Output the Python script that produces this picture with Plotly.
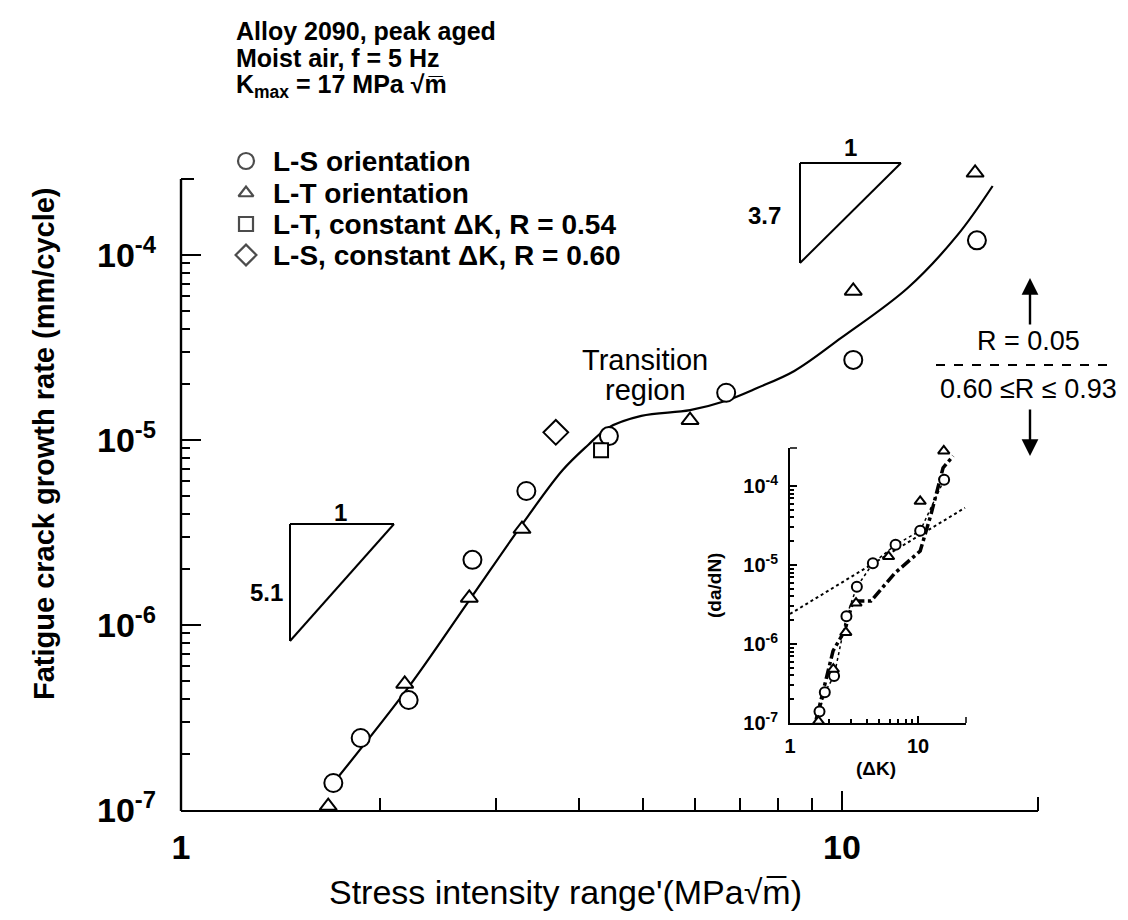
import plotly.graph_objects as go

# ---------------- data ----------------
ls_dk = [1.70, 1.87, 2.21, 2.76, 3.33, 4.44, 6.68, 10.4, 16.0]
ls_rate = [1.40e-7, 2.45e-7, 3.93e-7, 2.25e-6, 5.3e-6, 1.05e-5, 1.8e-5, 2.71e-5, 1.2e-4]

lt_dk = [1.67, 2.18, 2.73, 3.28, 5.89, 10.4, 15.9]
lt_rate = [1.05e-7, 4.8e-7, 1.4e-6, 3.3e-6, 1.28e-5, 6.39e-5, 2.78e-4]

sq_dk = [4.32]
sq_rate = [8.8e-6]

di_dk = [3.69]
di_rate = [1.1e-5]

fit_dk = [1.70, 2.205, 2.718, 3.35, 3.78, 4.13, 4.42, 4.97, 5.89, 6.64, 7.44,
          8.47, 9.97, 12.57, 14.95, 16.9]
fit_rate = [1.40e-7, 4.57e-7, 1.33e-6, 3.88e-6, 6.88e-6, 9.4e-6, 1.16e-5, 1.35e-5,
            1.45e-5, 1.62e-5, 1.91e-5, 2.36e-5, 3.56e-5, 6.63e-5, 1.28e-4, 2.36e-4]

# inset: high-R data (dash-dot) and extrapolated power-law line (dotted)
hiR_dk = [1.6, 2.17, 2.69, 3.1, 4.29, 6.6, 10.4, 12.6, 15.7, 18.8]
hiR_rate = [1.1e-7, 8.2e-7, 1.5e-6, 3.5e-6, 3.5e-6, 7.9e-6, 1.5e-5, 4.3e-5, 1.7e-4, 2.4e-4]
paris_dk = [1.0, 23.3]
paris_rate = [2.4e-6, 5.3e-5]

legend_names = ["L-S orientation", "L-T orientation",
                "L-T, constant ΔK, R = 0.54", "L-S, constant ΔK, R = 0.60"]
legend_symbols = ["circle-open", "triangle-up-open", "square-open", "diamond-open"]

y_tick_vals = [1e-7, 1e-6, 1e-5, 1e-4]
y_tick_text = ["10<sup>-7</sup>", "10<sup>-6</sup>", "10<sup>-5</sup>", "10<sup>-4</sup>"]
x_tick_vals = [1, 10]
x_tick_text = ["1", "10"]

# ---------------- layout geometry (pixels) ----------------
W, H = 1128, 920
L, R, T, B = 173, 1030, 130, 802   # plot area (T above the drawn axis top)
AXIS_TOP = 171
XDEC = 661.0
YDEC = 185.0
x_range = [0, (R - L) / XDEC]
y_range = [-7, -7 + (B - T) / YDEC]

# inset geometry (pixels)
IL, IR, IT, IB = 782, 958, 440, 715
IXDEC, IYDEC = 128.0, 79.0

FONT = "Liberation Sans, Arial, Helvetica, sans-serif"


def P(px, py):
    return (px - L) / (R - L), (B - py) / (B - T)


minor_y = [k * 10.0 ** e for e in (-7, -6, -5) for k in range(2, 10)]
minor_x = [2, 3, 4, 5, 6, 7, 8, 9]

fig = go.Figure()

# main fitted curve
fig.add_trace(go.Scatter(x=fit_dk, y=fit_rate, mode="lines",
                         line=dict(color="black", width=2.2, shape="spline", smoothing=1.0),
                         showlegend=False, hoverinfo="skip"))

mk_line = dict(color="black", width=2)
fig.add_trace(go.Scatter(x=ls_dk, y=ls_rate, mode="markers", name=legend_names[0],
                         marker=dict(symbol="circle", size=18, color="white", line=mk_line),
                         cliponaxis=False, showlegend=False))
fig.add_trace(go.Scatter(x=lt_dk, y=lt_rate, mode="markers", name=legend_names[1],
                         marker=dict(symbol="triangle-up", size=15, color="white", line=mk_line),
                         cliponaxis=False, showlegend=False))
fig.add_trace(go.Scatter(x=sq_dk, y=sq_rate, mode="markers", name=legend_names[2],
                         marker=dict(symbol="square", size=14, color="white", line=mk_line),
                         cliponaxis=False, showlegend=False))
fig.add_trace(go.Scatter(x=di_dk, y=di_rate, mode="markers", name=legend_names[3],
                         marker=dict(symbol="diamond", size=19, color="white", line=mk_line),
                         cliponaxis=False, showlegend=False))

# ---------------- inset ----------------
fig.add_trace(go.Scatter(x=paris_dk, y=paris_rate, mode="lines", xaxis="x2", yaxis="y2",
                         line=dict(color="black", width=2, dash="dot"),
                         showlegend=False, hoverinfo="skip"))
fig.add_trace(go.Scatter(x=hiR_dk, y=hiR_rate, mode="lines", xaxis="x2", yaxis="y2",
                         line=dict(color="black", width=3.5, dash="dashdot"),
                         showlegend=False, hoverinfo="skip"))
fig.add_trace(go.Scatter(x=ls_dk, y=ls_rate, mode="lines+markers", xaxis="x2", yaxis="y2",
                         line=dict(color="black", width=1.5, dash="dot"),
                         marker=dict(symbol="circle", size=10, color="white",
                                     line=dict(color="black", width=2)),
                         cliponaxis=False, showlegend=False))
fig.add_trace(go.Scatter(x=lt_dk, y=lt_rate, mode="markers", xaxis="x2", yaxis="y2",
                         marker=dict(symbol="triangle-up", size=10, color="white",
                                     line=dict(color="black", width=2)),
                         cliponaxis=False, showlegend=False))

# ---------------- manual legend (pixel overlay axis) ----------------
leg_y = [153, 185, 216, 247]
fig.add_trace(go.Scatter(x=[238] * 4, y=leg_y, mode="markers", xaxis="x3", yaxis="y3",
                         marker=dict(symbol=legend_symbols, size=[16, 13, 14, 16], color="black",
                                     line=dict(color="black", width=2.2)),
                         cliponaxis=False, showlegend=False, hoverinfo="skip"))

annotations = []


def text(px, py, s, size, bold=True, xanchor="center", angle=0, family=FONT):
    x, y = P(px, py)
    annotations.append(dict(x=x, y=y, xref="paper", yref="paper", text=s, showarrow=False,
                            xanchor=xanchor, yanchor="middle", textangle=angle,
                            font=dict(family=family, size=size, color="black",
                                      weight="bold" if bold else "normal")))


for name, yy in zip(legend_names, leg_y):
    text(263, yy, name, 28, xanchor="left")

# title block
text(226, 23, "Alloy 2090, peak aged", 25, xanchor="left")
text(226, 50, "Moist air, f = 5 Hz", 25, xanchor="left")
text(226, 78, "K<sub>max</sub> = 17 MPa √m̅", 25, xanchor="left")

# axis titles
text(36, 436, "Fatigue crack growth rate (mm/cycle)", 29, angle=-90)
text(557, 884, "Stress intensity range'(MPa√m̅)", 34, bold=False)

# slope triangles labels
text(332, 504, "1", 24)
text(258, 584, "5.1", 24)
text(842, 140, "1", 24)
text(756, 207, "3.7", 24)

# transition region
text(637, 352, "Transition", 29, bold=False)
text(637, 382, "region", 29, bold=False)

# R annotations
text(1020, 333, "R = 0.05", 27, bold=False)
text(1020, 381, "0.60 ≤R ≤ 0.93", 27, bold=False)

# inset axis titles
text(706, 578, "(da/dN)", 19, angle=-90)
text(868, 760, "(ΔK)", 19)

# arrows
for head, tail_dy in (((1022, 270), 48), ((1022, 448), -48)):
    x, y = P(*head)
    annotations.append(dict(x=x, y=y, xref="paper", yref="paper", ax=0, ay=tail_dy,
                            axref="pixel", ayref="pixel", text="", showarrow=True,
                            arrowhead=2, arrowsize=1.4, arrowwidth=2.4, arrowcolor="black"))

shapes = []


def seg(p0, p1, width=2, dash=None):
    x0, y0 = P(*p0)
    x1, y1 = P(*p1)
    shapes.append(dict(type="line", xref="paper", yref="paper", x0=x0, y0=y0, x1=x1, y1=y1,
                       line=dict(color="black", width=width, dash=dash)))


def tri(a, b, c):
    seg(a, b)
    seg(b, c)
    seg(c, a)


tri((282, 516), (386, 516), (282, 633))
tri((792, 155), (893, 155), (792, 255))
seg((928, 357), (1103, 357), width=2.2, dash="dash")
seg((L, AXIS_TOP), (L, B + 1), width=2.4)          # main y-axis line
seg((L, AXIS_TOP), (L + 13, AXIS_TOP), width=2)     # y-axis top end tick
seg((R, B + 1), (R, B - 13), width=2)               # x-axis right end tick
seg((IL, IT), (IL + 7, IT), width=1.5)              # inset y-axis top end tick
seg((IR, IB), (IR, IB - 6), width=1.5)              # inset x-axis right end tick

inset_x_dom = [(IL - L) / (R - L), (IR - L) / (R - L)]
inset_y_dom = [(B - IB) / (B - T), (B - IT) / (B - T)]
inset_x_range = [0, (IR - IL) / IXDEC]
inset_y_range = [-7, -7 + (IB - IT) / IYDEC]

axis_common = dict(showgrid=False, zeroline=False, ticks="inside", tickcolor="black", mirror=False)

fig.update_layout(
    width=W, height=H,
    margin=dict(l=L, r=W - R, t=T, b=H - B, pad=0),
    paper_bgcolor="white", plot_bgcolor="rgba(0,0,0,0)",
    showlegend=False,
    font=dict(family=FONT, color="black"),
    xaxis=dict(type="log", range=x_range, tickvals=x_tick_vals, ticktext=x_tick_text,
               showline=True, linecolor="black", linewidth=2.4,
               ticklen=19, tickwidth=2, ticklabelstandoff=6,
               tickfont=dict(size=34, weight="bold", family=FONT),
               minor=dict(tickvals=minor_x, ticklen=12, tickwidth=2, ticks="inside",
                          tickcolor="black", showgrid=False),
               **axis_common),
    yaxis=dict(type="log", range=y_range, tickvals=y_tick_vals, ticktext=y_tick_text,
               showline=False,
               ticklen=20, tickwidth=2, ticklabelstandoff=24,
               tickfont=dict(size=34, weight="bold", family=FONT),
               minor=dict(tickvals=minor_y, ticklen=9, tickwidth=2, ticks="inside",
                          tickcolor="black", showgrid=False),
               **axis_common),
    xaxis2=dict(type="log", domain=inset_x_dom, anchor="y2", range=inset_x_range,
                showline=True, linecolor="black", linewidth=2,
                tickvals=x_tick_vals, ticktext=x_tick_text, ticklen=7, tickwidth=1.5,
                ticklabelstandoff=4, tickfont=dict(size=20, weight="bold", family=FONT),
                minor=dict(tickvals=minor_x, ticklen=4, tickwidth=1.5, ticks="inside",
                           tickcolor="black", showgrid=False),
                **axis_common),
    yaxis2=dict(type="log", domain=inset_y_dom, anchor="x2", range=inset_y_range,
                showline=True, linecolor="black", linewidth=2,
                tickvals=y_tick_vals, ticktext=y_tick_text, ticklen=7, tickwidth=1.5,
                ticklabelstandoff=6, tickfont=dict(size=20, weight="bold", family=FONT),
                minor=dict(tickvals=minor_y, ticklen=4, tickwidth=1.5, ticks="inside",
                           tickcolor="black", showgrid=False),
                **axis_common),
    xaxis3=dict(overlaying="x", anchor="y3", range=[L, R], visible=False, fixedrange=True),
    yaxis3=dict(overlaying="y", anchor="x3", range=[B, T], visible=False, fixedrange=True),
    annotations=annotations,
    shapes=shapes,
)

fig.write_html("out.html")
